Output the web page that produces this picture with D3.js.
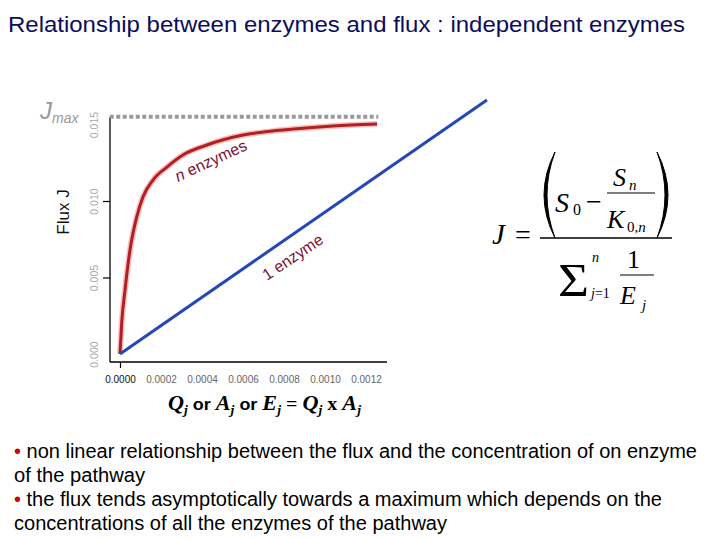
<!DOCTYPE html>
<html>
<head>
<meta charset="utf-8">
<script src="https://cdn.jsdelivr.net/npm/d3@7/dist/d3.min.js"></script>
<style>
  html, body { margin: 0; padding: 0; background: #fff; }
  svg { display: block; }
</style>
</head>
<body>
<svg id="chart" width="720" height="540"></svg>
<script>
// ---------- data ----------
const titleText = "Relationship between enzymes and flux : independent enzymes";
const xTicks = [0, 0.0002, 0.0004, 0.0006, 0.0008, 0.0010, 0.0012];
const xTickLabels = ["0.0000", "0.0002", "0.0004", "0.0006", "0.0008", "0.0010", "0.0012"];
const yTicks = [0, 0.005, 0.010, 0.015];
const yTickLabels = ["0.000", "0.005", "0.010", "0.015"];
const jmax = 0.0155;
const jmaxExtent = [-0.00005, 0.00126];
// n enzymes (hyperbolic saturation)
const nEnzX = [0, 0.0000083, 0.0000244, 0.0000488, 0.0000815, 0.000112, 0.000161, 0.000229, 0.000307, 0.000424, 0.000600, 0.000795, 0.001039, 0.001254];
const nEnzY = [0, 0.00203, 0.00418, 0.00680, 0.00895, 0.01026, 0.01137, 0.01222, 0.01301, 0.01366, 0.01431, 0.01464, 0.01490, 0.01503];
// 1 enzyme (linear)
const oneEnzX = [0, 0.00179];
const oneEnzY = [0, 0.0166];
const bullets = [
  {bullet: true,  text: " non linear relationship between the flux and the concentration of on enzyme", len: 683},
  {bullet: false, text: "of the pathway", len: 131},
  {bullet: true,  text: " the flux tends asymptotically towards a maximum which depends on the", len: 648},
  {bullet: false, text: "concentrations of all the enzymes of the pathway", len: 433}
];

// ---------- setup ----------
const svg = d3.select("#chart");
const x = d3.scaleLinear().domain([0, 0.0012]).range([120, 366]);
const y = d3.scaleLinear().domain([0, 0.015]).range([354, 124.5]);
const axisLeftX = 110, axisBottomY = 362;

// title
svg.append("text")
  .attr("x", 8).attr("y", 32)
  .attr("font-family", "Liberation Sans, Arial, sans-serif")
  .attr("font-size", 22)
  .attr("fill", "#0c0c5e")
  .attr("textLength", 677).attr("lengthAdjust", "spacingAndGlyphs")
  .text(titleText);

// axes lines
svg.append("line").attr("x1", axisLeftX).attr("x2", axisLeftX)
  .attr("y1", 117).attr("y2", axisBottomY).attr("stroke", "#000").attr("stroke-width", 1.3);
svg.append("line").attr("x1", axisLeftX).attr("x2", 387)
  .attr("y1", axisBottomY).attr("y2", axisBottomY).attr("stroke", "#000").attr("stroke-width", 1.3);

// y axis via d3
const yAxis = d3.axisLeft(y).tickValues(yTicks).tickSize(7).tickSizeOuter(0)
  .tickFormat((d, i) => yTickLabels[i]);
const gy = svg.append("g").attr("transform", `translate(${axisLeftX},0)`).call(yAxis);
gy.select(".domain").remove();
gy.selectAll(".tick line").attr("stroke", "#000").attr("stroke-width", 1.2)
  .attr("opacity", d => (d === 0.005 || d === 0.010) ? 1 : 0);
gy.selectAll(".tick text")
  .attr("font-family", "Liberation Sans, Arial, sans-serif")
  .attr("font-size", 10.5).attr("fill", "#aaa")
  .attr("x", null).attr("dy", null)
  .attr("text-anchor", "middle")
  .attr("transform", "translate(-12,0) rotate(-90)");

// x axis via d3
const xAxis = d3.axisBottom(x).tickValues(xTicks).tickSize(6).tickSizeOuter(0)
  .tickFormat((d, i) => xTickLabels[i]);
const gx = svg.append("g").attr("transform", `translate(0,${axisBottomY})`).call(xAxis);
gx.select(".domain").remove();
gx.selectAll(".tick line").attr("stroke", "#000").attr("stroke-width", 1.2)
  .attr("opacity", d => d === 0 ? 1 : 0);
gx.selectAll(".tick text")
  .attr("font-family", "Liberation Sans, Arial, sans-serif")
  .attr("font-size", 10)
  .attr("fill", d => d === 0 ? "#111" : "#666")
  .attr("y", 14);

// Jmax dotted line
svg.append("line")
  .attr("x1", x(jmaxExtent[0])).attr("x2", x(jmaxExtent[1]))
  .attr("y1", y(jmax)).attr("y2", y(jmax))
  .attr("stroke", "#9a9a9a").attr("stroke-width", 4).attr("stroke-dasharray", "4,2.5");

// curves
const line = d3.line().x(d => x(d[0])).y(d => y(d[1])).curve(d3.curveMonotoneX);
const nData = nEnzX.map((v, i) => [v, nEnzY[i]]);
const oneData = oneEnzX.map((v, i) => [v, oneEnzY[i]]);

svg.append("path").datum(nData).attr("d", line)
  .attr("fill", "none").attr("stroke", "rgba(235,120,120,0.45)").attr("stroke-width", 6);
svg.append("path").datum(nData).attr("d", line)
  .attr("fill", "none").attr("stroke", "#b21e22").attr("stroke-width", 3);
svg.append("path").datum(oneData).attr("d", d3.line().x(d => x(d[0])).y(d => y(d[1])))
  .attr("fill", "none").attr("stroke", "#2346b8").attr("stroke-width", 3);

// curve labels
svg.append("text")
  .attr("transform", "translate(178,182) rotate(-25)")
  .attr("font-family", "Liberation Sans, Arial, sans-serif")
  .attr("font-size", 16).attr("fill", "#7d1238")
  .html('<tspan font-style="italic">n</tspan> enzymes');
svg.append("text")
  .attr("transform", "translate(267,281) rotate(-34)")
  .attr("font-family", "Liberation Sans, Arial, sans-serif")
  .attr("font-size", 16).attr("fill", "#7d1238")
  .text("1 enzyme");

// Jmax label
const jm = svg.append("text").attr("x", 40).attr("y", 119)
  .attr("font-family", "Liberation Sans, Arial, sans-serif")
  .attr("font-style", "italic").attr("fill", "#999");
jm.append("tspan").attr("font-size", 24).text("J");
jm.append("tspan").attr("font-size", 14).attr("dy", 4).text("max");

// Flux J
svg.append("text")
  .attr("transform", "translate(69,212) rotate(-90)")
  .attr("text-anchor", "middle")
  .attr("font-family", "Liberation Sans, Arial, sans-serif")
  .attr("font-size", 17).attr("fill", "#111")
  .text("Flux J");

// x axis title
const xt = svg.append("text").attr("x", 168).attr("y", 410)
  .attr("font-family", "Liberation Serif, Times New Roman, serif")
  .attr("font-weight", "bold").attr("fill", "#000")
  .attr("textLength", 193).attr("lengthAdjust", "spacingAndGlyphs");
function xtPart(t, opts) {
  const s = xt.append("tspan").text(t);
  Object.entries(opts).forEach(([k, v]) => s.attr(k, v));
}
const big = {"font-size": 21, "font-style": "italic"};
xtPart("Q", big); xtPart("j", {"font-size": 13, "font-style": "italic", dy: 4});
xtPart(" or ", {"font-size": 17, "font-family": "Liberation Sans, Arial, sans-serif", dy: -4});
xtPart("A", big); xtPart("j", {"font-size": 13, "font-style": "italic", dy: 4});
xtPart("  or ", {"font-size": 17, "font-family": "Liberation Sans, Arial, sans-serif", dy: -4});
xtPart("E", big); xtPart("j", {"font-size": 13, "font-style": "italic", dy: 4});
xtPart(" = ", {"font-size": 19, dy: -4});
xtPart("Q", big); xtPart("j", {"font-size": 13, "font-style": "italic", dy: 4});
xtPart(" x ", {"font-size": 19, dy: -4});
xtPart("A", big); xtPart("j", {"font-size": 13, "font-style": "italic", dy: 4});

// formula
const F = svg.append("g").attr("font-family", "Liberation Serif, Times New Roman, serif").attr("fill", "#000");
function ft(xp, yp, t, size, italic) {
  return F.append("text").attr("x", xp).attr("y", yp).attr("font-size", size)
    .attr("font-style", italic ? "italic" : "normal").text(t);
}
ft(492, 244, "J", 29, true);
ft(515, 244, "=", 28, false);
F.append("line").attr("x1", 540).attr("x2", 672).attr("y1", 238).attr("y2", 238).attr("stroke", "#000").attr("stroke-width", 1.4);
F.append("path").attr("d", "M555,152 Q533,195 555,238 Q539,195 555,152 Z").attr("fill", "#000").attr("stroke", "#000").attr("stroke-width", 1);
F.append("path").attr("d", "M657,152 Q679,195 657,238 Q673,195 657,152 Z").attr("fill", "#000").attr("stroke", "#000").attr("stroke-width", 1);
ft(555, 212, "S", 28, true);
ft(573, 215, "0", 16, false);
ft(586, 211, "\u2212", 28, false);
ft(613, 186, "S", 26, true);
ft(629, 190, "n", 15, true);
F.append("line").attr("x1", 607).attr("x2", 655).attr("y1", 193).attr("y2", 193).attr("stroke", "#000").attr("stroke-width", 1.2);
ft(607, 228, "K", 26, true);
F.append("text").attr("x", 627).attr("y", 232).attr("font-size", 15)
  .html('0,<tspan font-style="italic">n</tspan>');
F.append("text").attr("x", 558).attr("y", 296).attr("font-size", 46)
  .attr("textLength", 31).attr("lengthAdjust", "spacingAndGlyphs").text("\u03A3");
ft(592, 262, "n", 14, true);
F.append("text").attr("x", 591).attr("y", 298).attr("font-size", 14)
  .html('<tspan font-style="italic">j</tspan>=1');
ft(627, 268, "1", 26, false);
F.append("line").attr("x1", 620).attr("x2", 654).attr("y1", 275).attr("y2", 275).attr("stroke", "#000").attr("stroke-width", 1.2);
ft(620, 304, "E", 26, true);
ft(642, 310, "j", 15, true);

// bullet text
bullets.forEach((b, i) => {
  const t = svg.append("text").attr("x", 14).attr("y", 458 + i * 24)
    .attr("font-family", "Liberation Sans, Arial, sans-serif")
    .attr("font-size", 19.5).attr("fill", "#000")
    .attr("textLength", b.len).attr("lengthAdjust", "spacingAndGlyphs");
  if (b.bullet) t.append("tspan").attr("fill", "#cc0000").text("\u2022");
  t.append("tspan").text(b.text);
});
</script>
</body>
</html>
